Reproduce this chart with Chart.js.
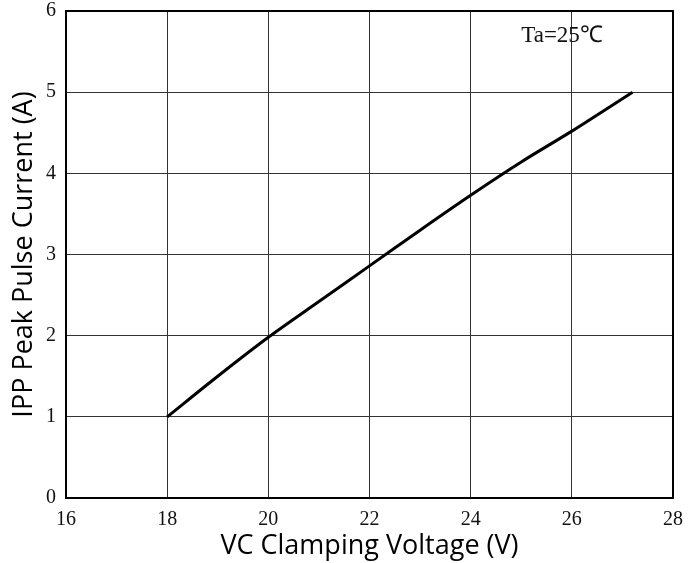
<!DOCTYPE html>
<html>
<head>
<meta charset="utf-8">
<script src="https://cdn.jsdelivr.net/npm/chart.js@4/dist/chart.umd.min.js"></script>
<style>
  html, body { margin: 0; padding: 0; background: #fff; }
  #wrap { width: 698px; height: 563px; }
</style>
</head>
<body>
<div id="wrap"><canvas id="c" width="698" height="563"></canvas></div>
<script>
// curve
var voltage = [18, 19, 20, 21, 22, 23, 24, 25, 26, 27.2];
var current = [1, 1.5, 1.98, 2.42, 2.86, 3.3, 3.73, 4.14, 4.52, 5.0];
var xTitle = 'VC Clamping Voltage (V)';
var yTitle = 'IPP Peak Pulse Current (A)';
var noteText = 'Ta=25\u2103';

var tickFont = { family: '"Liberation Serif", "Times New Roman", serif', size: 20 };
var titleFont = { family: '"Open Sans", "Noto Sans", sans-serif', size: 27 };

var points = [];
for (var i = 0; i < voltage.length; i++) {
    points.push({ x: voltage[i], y: current[i] });
}

// frame + note text
var framePlugin = {
    id: 'frame',
    afterDraw: function(chart) {
        var ctx = chart.ctx, a = chart.chartArea;
        ctx.save();
        ctx.strokeStyle = '#000';
        ctx.lineWidth = 2;
        ctx.strokeRect(a.left, a.top, a.right - a.left, a.bottom - a.top);
        ctx.font = '23px ' + tickFont.family;
        ctx.fillStyle = '#111';
        ctx.textAlign = 'left';
        ctx.textBaseline = 'middle';
        ctx.fillText(noteText, chart.scales.x.getPixelForValue(25.0), chart.scales.y.getPixelForValue(5.69));
        ctx.restore();
    }
};

new Chart(document.getElementById('c').getContext('2d'), {
    type: 'scatter',
    data: {
        datasets: [{
            data: points,
            showLine: true,
            borderColor: '#000',
            borderWidth: 3,
            pointRadius: 0,
            tension: 0.3,
            fill: false
        }]
    },
    options: {
        responsive: false,
        animation: false,
        layout: { padding: { top: 11, right: 25, left: 8, bottom: 0 } },
        plugins: { legend: { display: false }, tooltip: { enabled: false } },
        scales: {
            x: {
                type: 'linear', min: 16, max: 28,
                ticks: { stepSize: 2, color: '#111', font: tickFont, padding: 10 },
                grid: { color: '#333', lineWidth: 1, drawTicks: false },
                border: { display: false },
                title: { display: true, text: xTitle, color: '#000', font: titleFont, padding: { top: 0, bottom: 0 } },
                afterFit: function(s) { s.height = 65; s.paddingLeft = 0; s.paddingRight = 0; }
            },
            y: {
                min: 0, max: 6,
                ticks: { stepSize: 1, color: '#111', font: tickFont, padding: 10 },
                grid: { color: '#333', lineWidth: 1, drawTicks: false },
                border: { display: false },
                title: { display: true, text: yTitle, color: '#000', font: titleFont, padding: { top: 0, bottom: 0 } },
                afterFit: function(s) { s.width = 58; s.paddingTop = 0; s.paddingBottom = 0; }
            }
        }
    },
    plugins: [framePlugin]
});
</script>
</body>
</html>
